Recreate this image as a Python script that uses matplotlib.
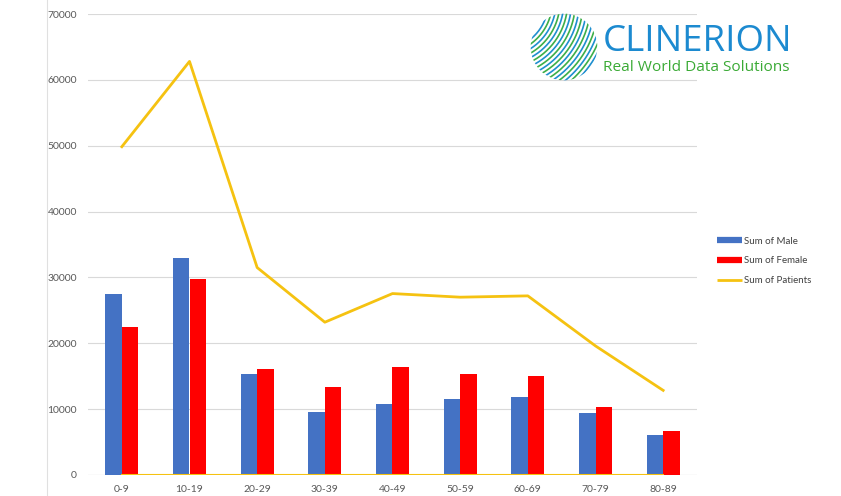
import numpy as np
import matplotlib
matplotlib.use("Agg")
import matplotlib.pyplot as plt
from matplotlib.patches import Circle
from matplotlib.lines import Line2D

categories = ["0-9", "10-19", "20-29", "30-39", "40-49", "50-59", "60-69", "70-79", "80-89"]
male = [27450, 32900, 15400, 9600, 10850, 11500, 11900, 9350, 6050]
female = [22400, 29700, 16050, 13400, 16450, 15400, 15100, 10300, 6650]
patients = [49850, 62800, 31500, 23200, 27550, 27000, 27200, 19600, 12850]
baseline = [0, 0, 0, 0, 0, 0, 0, 0, 0]
yticks = [0, 10000, 20000, 30000, 40000, 50000, 60000, 70000]

plt.rcParams['font.family'] = ['Lato', 'DejaVu Sans']

W, H = 841, 496
fig = plt.figure(figsize=(W / 100, H / 100), dpi=100)
fig.patch.set_facecolor("white")

ax = fig.add_axes([88 / W, 21 / H, (697 - 88) / W, (475 - 14) / H])
x = np.arange(len(categories))
bw = 0.245
ax.bar(x - bw / 2, male, width=bw, color="#4472C4", zorder=3, label="Sum of Male")
ax.bar(x + bw / 2, female, width=bw, color="#FF0000", zorder=3, label="Sum of Female")
ax.plot(x, patients, color="#F5C211", lw=2.0, zorder=4, label="Sum of Patients")
ax.plot(x, baseline, color="#F5C211", lw=1.5, zorder=4)

ax.set_xlim(-0.5, len(categories) - 0.5)
ax.set_ylim(0, 70000)
ax.set_yticks(yticks)
ax.set_yticklabels([str(v) for v in yticks])
ax.set_xticks(x)
ax.set_xticklabels(categories)
ax.tick_params(axis="both", length=0, labelsize=7.5, labelcolor="#595959")
ax.tick_params(axis="y", pad=8)
ax.tick_params(axis="x", pad=7)
ax.grid(axis="y", color="#D9D9D9", lw=0.8, zorder=0)
for s in ax.spines.values():
    s.set_visible(False)
ax.axhline(0, color="#D9D9D9", lw=0.8, zorder=1)

# left frame line
fig.add_artist(Line2D([47 / W, 47 / W], [0, 1], color="#E0E0E0", lw=0.8))

# legend
handles = [
    Line2D([0], [0], color="#4472C4", lw=4.5, solid_capstyle="butt"),
    Line2D([0], [0], color="#FF0000", lw=4.5, solid_capstyle="butt"),
    Line2D([0], [0], color="#F5C211", lw=2.0, solid_capstyle="butt"),
]
leg = fig.legend(handles, ["Sum of Male", "Sum of Female", "Sum of Patients"],
                 loc="upper left", bbox_to_anchor=(708 / W, 1 - 228 / H),
                 frameon=False, fontsize=7, handlelength=2.6, handletextpad=0.2,
                 labelspacing=1.1, labelcolor="#404040")

# logo: globe made of concentric arcs
gax = fig.add_axes([529 / W, 1 - 82 / H, 70 / W, 70 / H])
gax.set_xlim(-1.05, 1.05)
gax.set_ylim(-1.05, 1.05)
gax.set_aspect("equal")
gax.axis("off")
clip = Circle((0, 0), 1.0, transform=gax.transData)
cx, cy = -1.9, 1.35
dmin = np.hypot(cx, cy) - 1.0
dmax = np.hypot(cx, cy) + 1.0
th = np.linspace(-np.pi, np.pi, 600)
for i, rad in enumerate(np.linspace(dmin + 0.1, dmax - 0.05, 17)):
    col = "#1F8FCF" if i % 2 == 0 else "#3DAE49"
    ln, = gax.plot(cx + rad * np.cos(th), cy + rad * np.sin(th), color=col,
                   lw=1.2, solid_capstyle="round")
    ln.set_clip_path(clip)

fig.text(603 / W, 1 - 51 / H, "CLINERION", fontsize=26.4, color="#1C8AD0",
         ha="left", va="baseline", family=["Open Sans", "DejaVu Sans"])
fig.text(603 / W, 1 - 71 / H, "Real World Data Solutions", fontsize=11.1,
         color="#3AAA35", ha="left", va="baseline", family=["Open Sans", "DejaVu Sans"])

fig.savefig("out.png", dpi=100, facecolor="white")
